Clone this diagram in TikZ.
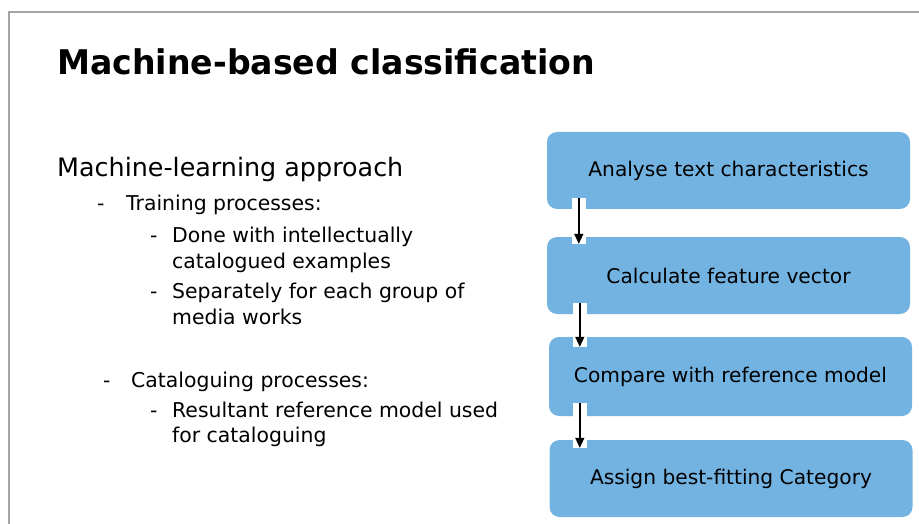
\documentclass[tikz,border=0pt]{standalone}
\usepackage{fontspec}
\setmainfont{DejaVu Sans}
\newfontfamily\headfont[FakeStretch=0.975]{DejaVu Sans}
\usetikzlibrary{arrows.meta}
\definecolor{stepBlue}{RGB}{115,179,226}
\definecolor{frameGrey}{RGB}{165,165,165}

\begin{document}
\begin{tikzpicture}[x=1pt, y=-1pt,
    stepbox/.style={fill=stepBlue, rounded corners=10pt, minimum width=363pt, minimum height=77pt, inner sep=0pt, font=\fontsize{20.2}{24}\selectfont},
    line/.style={anchor=base west, inner sep=0pt, font=\fontsize{20.4}{24}\selectfont},
    flow/.style={-{Triangle[width=9pt,length=10pt]}, line width=1.4pt, preaction={draw=white, line width=14pt, -}}
]
\useasboundingbox (0,0) rectangle (919,524);
% slide frame
\draw[frameGrey, line width=1.5pt] (919,12) -- (9,12) -- (9,524);

\node[anchor=base west, inner sep=0pt, font=\headfont\fontsize{34}{40}\selectfont\bfseries] (title) at (57,75) {Machine-based classification};

% left column
\node[line, font=\fontsize{25.4}{30}\selectfont] (approach) at (57,177) {Machine-learning approach};
\node[line] (dashA) at (97,211) {-};
\node[line] (training) at (126,211) {Training processes:};
\node[line] (dashB) at (150,242) {-};
\node[line] (done) at (172,242) {Done with intellectually};
\node[line] (doneB) at (172,268) {catalogued examples};
\node[line] (dashC) at (150,298) {-};
\node[line] (separate) at (172,298) {Separately for each group of};
\node[line] (separateB) at (172,324) {media works};
\node[line] (dashD) at (103,387) {-};
\node[line] (catalog) at (131,387) {Cataloguing processes:};
\node[line] (dashE) at (150,417) {-};
\node[line] (result) at (172,417) {Resultant reference model used};
\node[line] (resultB) at (172,442) {for cataloguing};

% process steps
\node[stepbox] (analyse) at (728.5,170.5) {Analyse text characteristics};
\node[stepbox] (vector) at (728.5,275.5) {Calculate feature vector};
\node[stepbox, minimum height=79pt] (compare) at (730.5,376.5) {Compare with reference model};
\node[stepbox] (assign) at (731,478.5) {Assign best-fitting Category};

\draw[flow] ([xshift=32pt,yshift=11pt]analyse.south west) -- ([xshift=32pt,yshift=-7pt]vector.north west);
\draw[flow] ([xshift=33pt,yshift=11pt]vector.south west) -- ([xshift=31pt,yshift=-10pt]compare.north west);
\draw[flow] ([xshift=31pt,yshift=13pt]compare.south west) -- ([xshift=30.5pt,yshift=-8pt]assign.north west);
\end{tikzpicture}
\end{document}
